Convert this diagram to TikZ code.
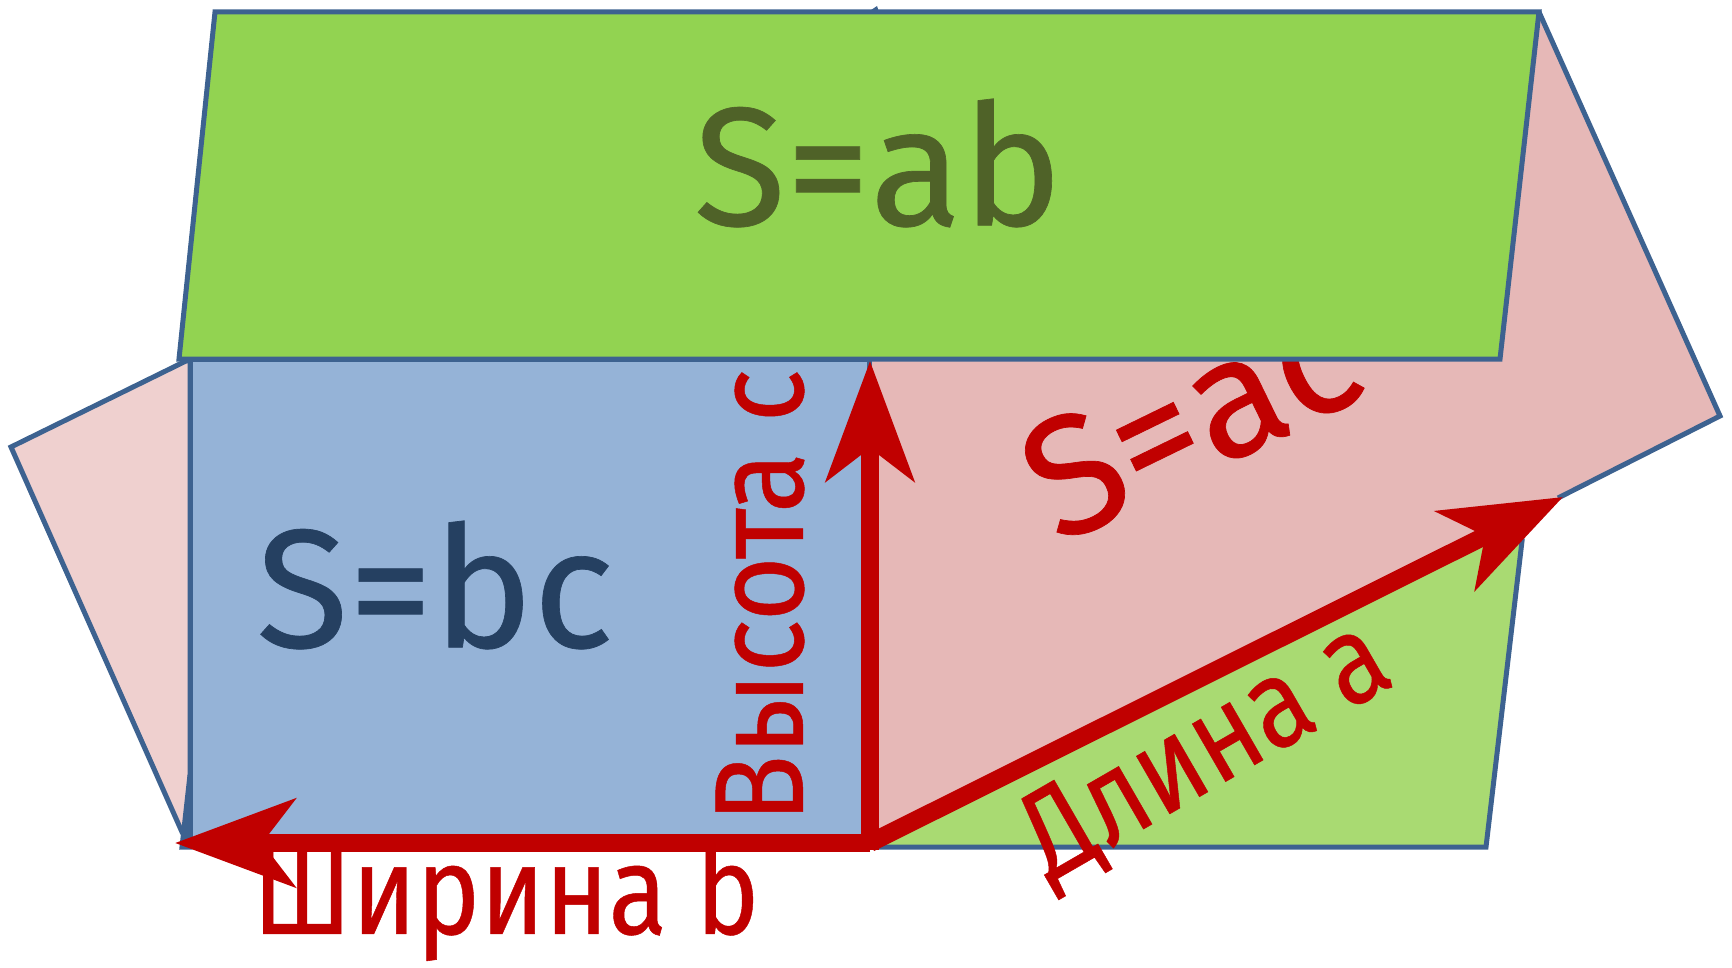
\documentclass[tikz,border=0pt]{standalone}
\usepackage{fontspec}
\setmainfont[FakeBold=0.4]{Fira Sans}
\usetikzlibrary{arrows.meta}

\definecolor{edgeblue}{HTML}{3D6290}
\definecolor{faceab}{HTML}{92D351}
\definecolor{facelow}{HTML}{A9DA72}
\definecolor{facebc}{HTML}{95B3D7}
\definecolor{faceac}{HTML}{E6B8B7}
\definecolor{faceback}{HTML}{EFD0CF}
\definecolor{arrowred}{HTML}{C00000}
\definecolor{textab}{HTML}{4F6228}
\definecolor{textbc}{HTML}{254061}

\tikzset{
  face/.style = {draw=edgeblue, line width=0.05cm, line join=miter},
  edgearrow/.style = {draw=arrowred, line width=0.18cm,
    -{Stealth[length=1.2cm, width=0.88cm, inset=0.33cm]}},
  areatext/.style = {font=\fontsize{48}{48}\selectfont},
  lengthtext/.style = {font=\fontsize{36}{36}\selectfont, text=arrowred, xscale=0.85}
}

\begin{document}
\begin{tikzpicture}

\useasboundingbox (0,0) rectangle (17.32,-9.67);

\draw[face, fill=facelow] (8.73,-8.47) -- (14.86,-8.47) -- (15.22,-5.41) -- (8.73,-5.41) -- cycle;
\draw[face, fill=faceback] (1.90,-3.59) -- (0.11,-4.47) -- (1.82,-8.32) -- (1.90,-8.32) -- cycle;
\draw[face, fill=edgeblue] (1.90,-7.75) -- (1.82,-8.47) -- (1.90,-8.47) -- cycle;

\fill[faceac] (15.39,-0.12) -- (17.20,-4.16) -- (15.58,-4.98) -- (8.73,-8.42) -- (8.70,-3.59) -- (15.00,-3.59) -- cycle;
\draw[face] (15.39,-0.12) -- (17.20,-4.16) -- (15.58,-4.98);

\node[areatext, text=arrowred, rotate=26] (labelac) at (11.90,-4.17) {S=ac};

\draw[face, fill=facebc] (1.90,-3.59) rectangle (8.69,-8.45);

\fill[edgeblue] (8.68,-0.12) -- (8.77,-0.06) -- (8.79,-0.12) -- cycle;
\draw[face, fill=faceab] (2.15,-0.12) -- (15.39,-0.12) -- (15.00,-3.59) -- (1.79,-3.59) -- cycle;

\node[areatext, text=textab] (labelab) at (8.78,-1.63) {S=ab};
\node[areatext, text=textbc] (labelbc) at (4.35,-5.85) {S=bc};

\node[rotate=90, lengthtext, xscale=1.04] (labelheight) at (7.60,-5.96) {Высота c};
\node[lengthtext] (labelwidth) at (5.06,-9.00) {Ширина b};
\node[rotate=30, lengthtext] (labellength) at (12.07,-7.53) {Длина a};

\coordinate (origin) at (8.70,-8.43);
\coordinate (widthend) at (1.75,-8.43);
\coordinate (heightend) at (8.70,-3.61);
\coordinate (lengthend) at (15.63,-4.97);

\draw[edgearrow] (origin) -- (widthend);
\draw[edgearrow] (8.70,-8.50) -- (heightend);
\draw[edgearrow] (origin) -- (lengthend);

\end{tikzpicture}
\end{document}
